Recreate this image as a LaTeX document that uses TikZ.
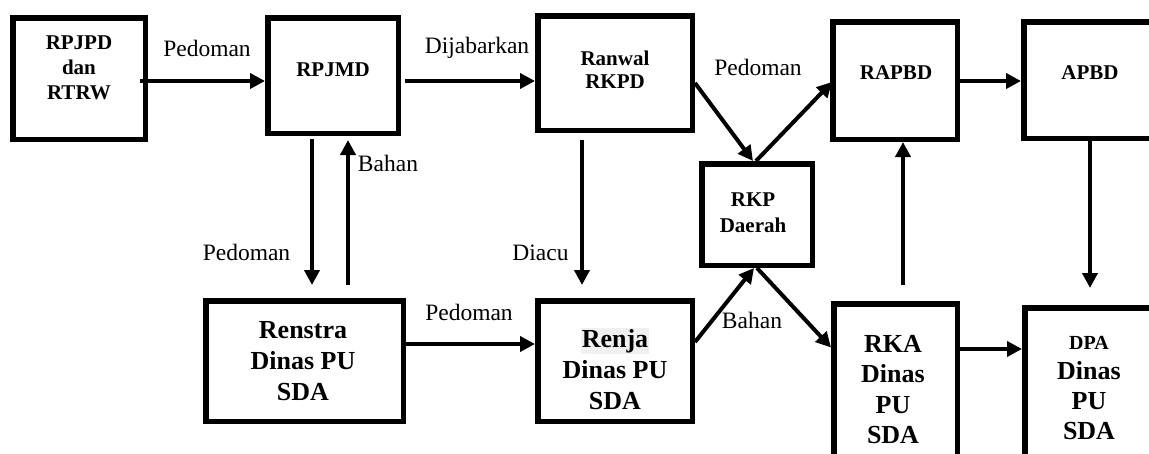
\documentclass[tikz,border=0pt]{standalone}
\usepackage{fontspec}
\setmainfont{Liberation Serif}
\usetikzlibrary{arrows.meta}

\begin{document}
\begin{tikzpicture}[x=1pt,y=-1pt]
        \tikzstyle{blok}=[draw,line width=5.5pt,inner sep=0pt]
        \tikzstyle{isi}=[align=center,font=\fontsize{21}{25}\selectfont\bfseries]
        \tikzstyle{isibesar}=[align=center,font=\fontsize{26}{31}\selectfont\bfseries]
        \tikzstyle{ket}=[font=\fontsize{23.5}{28}\selectfont]
        \tikzstyle{panah}=[line width=4pt,-{Triangle[length=15pt,width=15pt]}]
        \useasboundingbox (0,0) rectangle (1149,453);
        \clip (0,0) rectangle (1149,453);
        \begin{scope}
           \node[blok,minimum width=132.5pt,minimum height=121.5pt] (rpjpd) at (79,78.5) {};
           \node[isi] (rpjpd-t) at (79,68) {RPJPD\\dan\\RTRW};

           \node[blok,minimum width=130.5pt,minimum height=115.5pt] (rpjmd) at (333,75.5) {};
           \node[isi] (rpjmd-t) at (333,70) {RPJMD};

           \node[blok,minimum width=154.5pt,minimum height=114.5pt] (ranwal) at (615,73) {};
           \node[isi,font=\fontsize{21}{23}\selectfont\bfseries] (ranwal-t) at (615,69.5) {Ranwal\\RKPD};

           \node[blok,minimum width=124.5pt,minimum height=117.5pt] (rapbd) at (895,80.5) {};
           \node[isi] (rapbd-t) at (896,73) {RAPBD};

           \node[blok,minimum width=134.5pt,minimum height=116.5pt] (apbd) at (1091,80) {};
           \node[isi] (apbd-t) at (1090,73) {APBD};

           \node[blok,minimum width=110.5pt,minimum height=101.5pt] (rkp) at (757,214.5) {};
           \node[isi,font=\fontsize{21}{26}\selectfont\bfseries] (rkp-t) at (753,213) {RKP\\Daerah};

           \node[blok,minimum width=197.5pt,minimum height=120.5pt] (renstra) at (304.5,361) {};
           \node[isibesar] (renstra-t) at (303,361) {Renstra\\Dinas PU\\SDA};

           \node[blok,minimum width=154.5pt,minimum height=120.5pt] (renja) at (615,361) {};
           \node[isibesar] (renja-t) at (615,369) {\setlength{\fboxsep}{1pt}\colorbox{black!6}{Renja}\\Dinas PU\\SDA};

           \node[blok,minimum width=123.5pt,minimum height=163.5pt] (rka) at (895.5,385.5) {};
           \node[isibesar,font=\fontsize{26}{30.5}\selectfont\bfseries] (rka-t) at (893,389.5) {RKA\\Dinas\\PU\\SDA};

           \node[blok,minimum width=130.5pt,minimum height=159.5pt] (dpa) at (1090,387.5) {};
           \node[isibesar,font=\fontsize{26}{30}\selectfont\bfseries] (dpa-t) at (1089,388.5) {{\fontsize{20}{24}\selectfont DPA}\\Dinas\\PU\\SDA};

           \node[ket] (ped1) at (207,48) {Pedoman};
           \node[ket] (jabar) at (477,48) {Dijabarkan};
           \node[ket] (ped2) at (758,67) {Pedoman};
           \node[ket] (bahan1) at (388,163) {Bahan};
           \node[ket] (ped3) at (246.5,252) {Pedoman};
           \node[ket] (diacu) at (540.5,253) {Diacu};
           \node[ket] (ped4) at (469,312) {Pedoman};
           \node[ket] (bahan2) at (752,320) {Bahan};

           \draw[panah] ([shift={(-8,2.5)}]rpjpd.east) -- ([shift={(0,5.5)}]rpjmd.west);
           \draw[panah] ([shift={(4,5.5)}]rpjmd.east) -- ([shift={(0,8)}]ranwal.west);
           \draw[panah] ([shift={(0,10)}]ranwal.east) -- ([shift={(-4,0)}]rkp.north);
           \draw[panah] ([shift={(-1,0)}]rkp.north) -- ([shift={(2,1.5)}]rapbd.west);
           \draw[panah] ([shift={(0,0.5)}]rapbd.east) -- ([shift={(0,1)}]apbd.west);
           \draw[panah] ([shift={(-1,0)}]apbd.south) -- ([shift={(0,-17)}]dpa.north);
           \draw[panah] ([shift={(7.5,-16)}]rka.north) -- ([shift={(8,0)}]rapbd.south);
           \draw[panah] ([shift={(-21,3)}]rpjmd.south) -- ([shift={(7.5,-13)}]renstra.north);
           \draw[panah] ([shift={(43.5,-13)}]renstra.north) -- ([shift={(15,4)}]rpjmd.south);
           \draw[panah] ([shift={(-33,7)}]ranwal.south) -- ([shift={(-33,-13)}]renja.north);
           \draw[panah] ([shift={(0,-17)}]renstra.east) -- ([shift={(0,-17)}]renja.west);
           \draw[panah] ([shift={(0,-19)}]renja.east) -- ([shift={(-3,0)}]rkp.south);
           \draw[panah] ([shift={(0,0)}]rkp.south) -- ([shift={(0,-38)}]rka.west);
           \draw[panah] ([shift={(0,-36.5)}]rka.east) -- ([shift={(0,-38.5)}]dpa.west);
         \end{scope}
\end{tikzpicture}
\end{document}
